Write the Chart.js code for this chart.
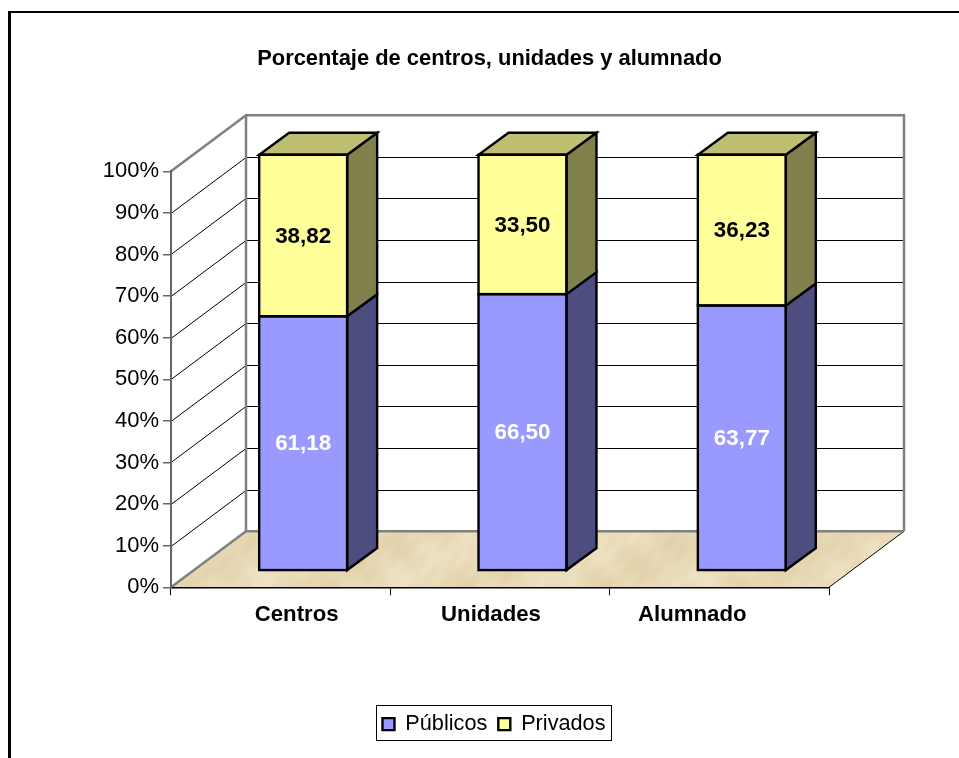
<!DOCTYPE html>
<html lang="es">
<head>
<meta charset="utf-8">
<title>Porcentaje de centros, unidades y alumnado</title>
<style>
    html, body { margin: 0; background: #fff; }
    canvas { display: block; }
</style>
<script src="https://cdn.jsdelivr.net/npm/chart.js@4/dist/chart.umd.js"></script>
</head>
<body>
<canvas id="centrosChart" width="959" height="758"></canvas>
<script>
// ---- Data ----
const categories = ['Centros', 'Unidades', 'Alumnado'];
const publicos = [61.18, 66.50, 63.77];
const privados = [38.82, 33.50, 36.23];
const seriesNames = ['Públicos', 'Privados'];
const percentTicks = [0, 10, 20, 30, 40, 50, 60, 70, 80, 90, 100];

// ---- 3D look (Excel style box) ----
const wallDepth = { x: 75, y: 56 };
const barShift = { x: 22.5, y: 16.5 };
const barDepth = { x: 30, y: 22 };
const barLabelColors = ['#ffffff', '#000000'];
const barSideColors = ['#4d4d80', '#80804d'];
const barTopColor = '#bfbf73';
const categoryLabelShift = [16, -9, -27];

const FONT = "'Liberation Sans', Arial, sans-serif";
Chart.defaults.font.family = FONT;
Chart.defaults.color = '#000';

function line(ctx, points, color, width) {
    ctx.beginPath();
    points.forEach((p, i) => (i ? ctx.lineTo(p[0], p[1]) : ctx.moveTo(p[0], p[1])));
    ctx.strokeStyle = color;
    ctx.lineWidth = width;
    ctx.stroke();
}

function polygon(ctx, points, fill) {
    ctx.beginPath();
    points.forEach((p, i) => (i ? ctx.lineTo(p[0], p[1]) : ctx.moveTo(p[0], p[1])));
    ctx.closePath();
    ctx.fillStyle = fill;
    ctx.fill();
    ctx.strokeStyle = '#000';
    ctx.lineWidth = 2.4;
    ctx.stroke();
}

// parchment texture for the floor
function floorPattern(ctx) {
    const tile = document.createElement('canvas');
    tile.width = 720;
    tile.height = 180;
    const tctx = tile.getContext('2d');
    const img = tctx.createImageData(720, 180);
    for (let y = 0; y < 180; y++) {
        for (let x = 0; x < 720; x++) {
            const u = x * Math.PI / 360;
            const v = y * Math.PI / 90;
            const n = Math.sin(5 * u + 2 * v) + 0.8 * Math.sin(13 * u - 3 * v + 1) * Math.sin(3 * u + v)
                + 0.5 * Math.sin(37 * u + 7 * v + 2) * Math.sin(11 * u - 2 * v);
            const i = (y * 720 + x) * 4;
            img.data[i] = 232 + n * 3.5;
            img.data[i + 1] = 217 + n * 4.5;
            img.data[i + 2] = 183 + n * 7;
            img.data[i + 3] = 255;
        }
    }
    tctx.putImageData(img, 0, 0);
    return ctx.createPattern(tile, 'repeat');
}

// ---- Box, floor and grid, legend frame, bar faces ----
const boxPlugin = {
    id: 'box3d',
    afterLayout(chart) {
        // title and legend are centred on the whole frame, not the plot
        chart.titleBlock.right = 959;
        chart.legend.left = 29;
        chart.legend.right = 959;
        chart.scales.x.getLabelItems().forEach((item, i) => {
            item.options.translation[0] += categoryLabelShift[i];
        });
    },
    beforeDraw(chart) {
        const { ctx, scales: { y } } = chart;
        const area = chart.chartArea;
        const dx = wallDepth.x;
        const dy = wallDepth.y;
        const b = area.bottom;
        const t = y.getPixelForValue(100);

        ctx.save();
        // outer frame, cut by the window on the right and below
        ctx.fillStyle = '#000';
        ctx.fillRect(8, 11, 951, 2);
        ctx.fillRect(8, 11, 3, 747);

        // floor
        ctx.beginPath();
        ctx.moveTo(area.left, b);
        ctx.lineTo(area.right, b);
        ctx.lineTo(area.right + dx, b - dy);
        ctx.lineTo(area.left + dx, b - dy);
        ctx.closePath();
        ctx.fillStyle = floorPattern(ctx);
        ctx.fill();
        line(ctx, [[area.right, b], [area.right + dx, b - dy]], '#000', 1);

        // grid on the side and back walls
        percentTicks.slice(1, -1).forEach(v => {
            const py = Math.round(y.getPixelForValue(v)) + 0.5;
            line(ctx, [[area.left, py], [area.left + dx, py - dy], [area.right + dx, py - dy]], '#000', 1);
        });

        // wall edges
        line(ctx, [[area.left, b], [area.left + dx, b - dy], [area.right + dx, b - dy]], '#808080', 2.5);
        line(ctx, [[area.left, t], [area.left + dx, t - dy], [area.right + dx, t - dy], [area.right + dx, b - dy]], '#808080', 2.5);
        line(ctx, [[area.left + dx, t - dy], [area.left + dx, b - dy]], '#808080', 2.5);
        ctx.restore();
    },
    beforeDatasetsDraw(chart) {
        chart.ctx.save();
        chart.ctx.translate(barShift.x, -barShift.y);
    },
    afterDatasetsDraw(chart) {
        const ctx = chart.ctx;
        const last = chart.data.datasets.length - 1;
        ctx.lineJoin = 'miter';
        chart.data.datasets.forEach((ds, d) => {
            chart.getDatasetMeta(d).data.forEach((bar, i) => {
                const left = bar.x - bar.width / 2;
                const right = bar.x + bar.width / 2;
                polygon(ctx, [[right, bar.y], [right + barDepth.x, bar.y - barDepth.y],
                    [right + barDepth.x, bar.base - barDepth.y], [right, bar.base]], barSideColors[d]);
                if (d === last) {
                    polygon(ctx, [[left, bar.y], [right, bar.y],
                        [right + barDepth.x, bar.y - barDepth.y], [left + barDepth.x, bar.y - barDepth.y]], barTopColor);
                }
                ctx.strokeStyle = '#000';
                ctx.lineWidth = 2.4;
                ctx.strokeRect(left, bar.y, bar.width, bar.base - bar.y);

                ctx.fillStyle = barLabelColors[d];
                ctx.font = `bold 22.4px ${FONT}`;
                ctx.textAlign = 'center';
                ctx.textBaseline = 'middle';
                ctx.fillText(ds.data[i].toFixed(2).replace('.', ','), bar.x, (bar.y + bar.base) / 2 + 1);
            });
        });
        ctx.restore();
    },
    afterDraw(chart) {
        const ctx = chart.ctx;
        ctx.save();
        ctx.strokeStyle = '#000';
        ctx.lineWidth = 1;
        ctx.strokeRect(376.5, 705.5, 235, 35);
        ctx.restore();
    }
};

// ---- Chart ----
new Chart(document.getElementById('centrosChart'), {
    type: 'bar',
    plugins: [boxPlugin],
    data: {
        labels: categories,
        datasets: [
            { label: seriesNames[0], data: publicos, backgroundColor: '#9999ff', borderWidth: 0, clip: false },
            { label: seriesNames[1], data: privados, backgroundColor: '#ffff99', borderWidth: 0, clip: false }
        ]
    },
    options: {
        responsive: false,
        animation: false,
        barPercentage: 0.401,
        categoryPercentage: 1,
        layout: { padding: { left: 20, right: 130, top: 0, bottom: 13 } },
        scales: {
            x: {
                stacked: true,
                afterFit: scale => { scale.height = 115; },
                border: { color: '#000', width: 1.5 },
                grid: { offset: true, drawOnChartArea: false, color: '#000', tickLength: 8 },
                ticks: { font: { size: 22.2, weight: 'bold' }, padding: 6, maxRotation: 0 }
            },
            y: {
                stacked: true,
                min: 0,
                max: 100,
                afterFit: scale => { scale.width = 151; },
                afterBuildTicks: scale => { scale.ticks = percentTicks.map(value => ({ value })); },
                border: { color: '#666', width: 2 },
                grid: { drawOnChartArea: false, color: '#666', lineWidth: 1.5, tickLength: 8 },
                ticks: { font: { size: 22 }, padding: 4, callback: v => v + '%' }
            }
        },
        plugins: {
            tooltip: { enabled: false },
            title: {
                display: true,
                text: 'Porcentaje de centros, unidades y alumnado',
                font: { size: 21.9, weight: 'bold' },
                padding: { top: 46, bottom: 99 }
            },
            legend: {
                position: 'bottom',
                labels: {
                    boxWidth: 12,
                    boxHeight: 12,
                    padding: 11,
                    font: { size: 21.7 },
                    generateLabels(chart) {
                        const items = Chart.defaults.plugins.legend.labels.generateLabels(chart);
                        items.forEach(item => {
                            item.strokeStyle = '#000';
                            item.lineWidth = 2.4;
                        });
                        return items;
                    }
                }
            }
        }
    }
});
</script>
</body>
</html>
